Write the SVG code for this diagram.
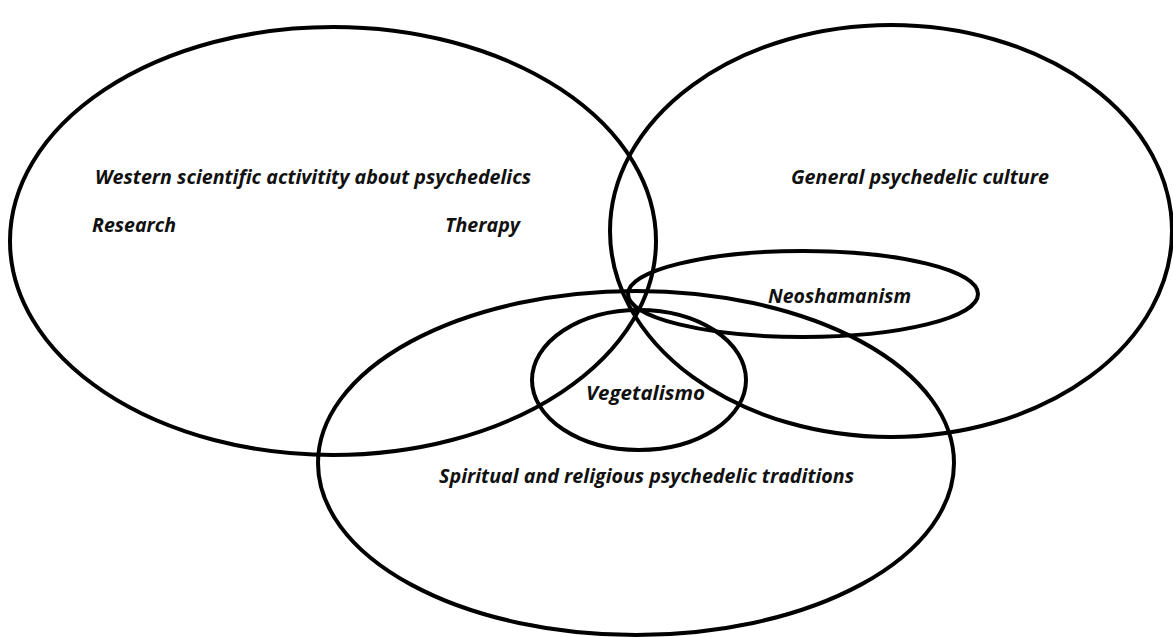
<svg xmlns="http://www.w3.org/2000/svg" width="1173" height="637" viewBox="0 0 1173 637">
<style>
.c{fill:none;stroke:#000;stroke-width:4}
.t{font-family:"Open Sans","DejaVu Sans",sans-serif;font-weight:bold;font-style:italic;font-size:19px;fill:#111}
</style>
<rect width="1173" height="637" fill="#fff"/>
<g id="western"><ellipse class="c" cx="333" cy="241" rx="323" ry="214"/>
<text class="t" x="95" y="184" textLength="436" lengthAdjust="spacingAndGlyphs">Western scientific activitity about psychedelics</text>
<text class="t" x="92" y="232" textLength="84" lengthAdjust="spacingAndGlyphs">Research</text>
<text class="t" x="445" y="232" textLength="75" lengthAdjust="spacingAndGlyphs">Therapy</text></g>
<g id="general"><ellipse class="c" cx="891" cy="231" rx="281" ry="206"/>
<text class="t" x="791" y="184" textLength="258" lengthAdjust="spacingAndGlyphs">General psychedelic culture</text></g>
<g id="spiritual"><ellipse class="c" cx="636" cy="463" rx="318" ry="172"/>
<text class="t" x="439" y="483" textLength="415" lengthAdjust="spacingAndGlyphs">Spiritual and religious psychedelic traditions</text></g>
<g id="neoshamanism"><ellipse class="c" cx="803" cy="294" rx="175" ry="43"/>
<text class="t" x="768" y="303" textLength="143" lengthAdjust="spacingAndGlyphs">Neoshamanism</text></g>
<g id="vegetalismo"><ellipse class="c" cx="639" cy="380" rx="107" ry="70"/>
<text class="t" x="586" y="400" textLength="119" lengthAdjust="spacingAndGlyphs">Vegetalismo</text></g>
<g id="connectors"/>
</svg>
